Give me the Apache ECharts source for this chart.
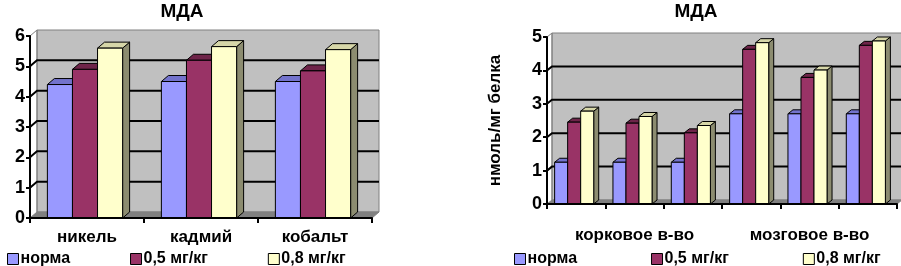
<!DOCTYPE html>
<html>
<head>
<meta charset="utf-8">
<script src="https://cdn.jsdelivr.net/npm/echarts@6/dist/echarts.min.js"></script>
<style>
  html, body { margin: 0; padding: 0; background: #fff; }
  #chart { width: 901px; height: 266px; }
</style>
</head>
<body>
<div id="chart"></div>
<script>
// данные
const seriesNames = ["норма", "0,5 мг/кг", "0,8 мг/кг"];
const metalCats = ["никель", "кадмий", "кобальт"];
const metalNorm = [4.4, 4.5, 4.5];
const metalDose05 = [4.9, 5.2, 4.85];
const metalDose08 = [5.6, 5.65, 5.55];

const tissueCats = ["", "корковое в-во", "", "", "мозговое в-во", ""];
const tissueNorm = [1.25, 1.25, 1.25, 2.7, 2.7, 2.7];
const tissueDose05 = [2.45, 2.42, 2.13, 4.63, 3.79, 4.75];
const tissueDose08 = [2.78, 2.62, 2.35, 4.83, 4.01, 4.88];

// цвета: лицо, верх, бок
const faceColors = ["#9999ff", "#993366", "#ffffcc"];
const topColors = ["#7373cc", "#6e2449", "#d6d6a8"];
const sideColors = ["#6b6bb3", "#5c1e3d", "#8c8c70"];

const font = "'Liberation Sans', Arial, sans-serif";
const chart = echarts.init(document.getElementById("chart"));

// задняя стенка, пол и линии сетки (как в excel 3d)
const wallRender = (nCats, yMax, dx, dy) => (params, api) => {
  const bw = api.size([1, 0])[0];
  const c0 = api.coord([0, 0]);
  const cN = api.coord([nCats - 1, 0]);
  const top = api.coord([0, yMax])[1];
  const bottom = c0[1];
  const left = c0[0] - bw / 2;
  const right = cN[0] + bw / 2;
  const children = [];
  children.push({
    type: "polygon",
    shape: { points: [[left + dx, top + dy], [right + dx, top + dy], [right + dx, bottom + dy], [left + dx, bottom + dy]] },
    style: { fill: "#c0c0c0", stroke: "#808080", lineWidth: 1 }
  });
  children.push({
    type: "polygon",
    shape: { points: [[left, bottom], [left + dx, bottom + dy], [right + dx, bottom + dy], [right, bottom]] },
    style: { fill: "#808080", stroke: "#808080", lineWidth: 1 }
  });
  children.push({
    type: "polyline",
    shape: { points: [[left, top], [left + dx, top + dy], [left + dx, bottom + dy]] },
    style: { fill: null, stroke: "#808080", lineWidth: 1 }
  });
  for (let v = 1; v < yMax; v++) {
    const y = api.coord([0, v])[1];
    children.push({
      type: "polyline",
      shape: { points: [[left, y], [left + dx, y + dy], [right + dx, y + dy]] },
      style: { fill: null, stroke: "#000", lineWidth: 2 }
    });
  }
  return { type: "group", children: children };
};

// 3d столбик
const barRender = (idx, groupRatio, shift, dx, dy) => (params, api) => {
  const cat = api.value(0);
  const val = api.value(1);
  const bw = api.size([1, 0])[0];
  const groupW = bw * groupRatio;
  const barW = groupW / 3;
  const topPt = api.coord([cat, val]);
  const basePt = api.coord([cat, 0]);
  const x0 = topPt[0] - groupW / 2 + shift + idx * barW;
  const ty = topPt[1];
  const by = basePt[1];
  return {
    type: "group",
    children: [
      {
        type: "polygon",
        shape: { points: [[x0 + barW, ty], [x0 + barW + dx, ty + dy], [x0 + barW + dx, by + dy], [x0 + barW, by]] },
        style: { fill: sideColors[idx], stroke: "#000", lineWidth: 1 }
      },
      {
        type: "polygon",
        shape: { points: [[x0, ty], [x0 + dx, ty + dy], [x0 + barW + dx, ty + dy], [x0 + barW, ty]] },
        style: { fill: topColors[idx], stroke: "#000", lineWidth: 1 }
      },
      {
        type: "rect",
        shape: { x: x0, y: ty, width: barW, height: by - ty },
        style: { fill: faceColors[idx], stroke: "#000", lineWidth: 1 }
      }
    ]
  };
};

const toPairs = (arr) => arr.map((v, i) => [i, v]);

const leftData = [metalNorm, metalDose05, metalDose08];
const rightData = [tissueNorm, tissueDose05, tissueDose08];

const series = [];
series.push({
  type: "custom", name: "wallL", xAxisIndex: 0, yAxisIndex: 0, z: 1,
  renderItem: wallRender(metalCats.length, 6, 7, -6), data: [[0, 0]], silent: true
});
series.push({
  type: "custom", name: "wallR", xAxisIndex: 1, yAxisIndex: 1, z: 1,
  renderItem: wallRender(tissueCats.length, 5, 5, -4), data: [[0, 0]], silent: true
});
leftData.forEach((arr, i) => {
  series.push({
    type: "custom", name: seriesNames[i], xAxisIndex: 0, yAxisIndex: 0, z: 3,
    itemStyle: { color: faceColors[i] },
    encode: { x: 0, y: 1 },
    renderItem: barRender(i, 0.66, -2, 7, -6),
    data: toPairs(arr)
  });
});
rightData.forEach((arr, i) => {
  series.push({
    type: "custom", name: seriesNames[i], xAxisIndex: 1, yAxisIndex: 1, z: 3,
    itemStyle: { color: faceColors[i] },
    encode: { x: 0, y: 1 },
    renderItem: barRender(i, 0.67, -2, 5, -4),
    data: toPairs(arr)
  });
});

const axisLabelStyle = { color: "#000", fontFamily: font, fontWeight: "bold" };

const option = {
  animation: false,
  backgroundColor: "#fff",
  title: [
    { text: "МДА", left: 177, top: -3, textAlign: "center",
      textStyle: { fontFamily: font, fontWeight: "bold", fontSize: 19, color: "#000" } },
    { text: "МДА", left: 691, top: -3, textAlign: "center",
      textStyle: { fontFamily: font, fontWeight: "bold", fontSize: 19, color: "#000" } }
  ],
  legend: [
    {
      data: seriesNames, left: 2, top: 246, itemGap: 60, itemWidth: 11, itemHeight: 11, icon: "rect",
      itemStyle: { borderColor: "#000", borderWidth: 1 },
      textStyle: { fontFamily: font, fontWeight: "bold", fontSize: 16, color: "#000", padding: [0, 0, 0, -3] },
      selectedMode: false
    },
    {
      data: seriesNames, left: 509, top: 246, itemGap: 74, itemWidth: 11, itemHeight: 11, icon: "rect",
      itemStyle: { borderColor: "#000", borderWidth: 1 },
      textStyle: { fontFamily: font, fontWeight: "bold", fontSize: 16, color: "#000", padding: [0, 0, 0, -3] },
      selectedMode: false
    }
  ],
  grid: [
    { left: 30, top: 36, width: 342, height: 182 },
    { left: 547, top: 37, width: 350, height: 167 }
  ],
  xAxis: [
    {
      type: "category", gridIndex: 0, data: metalCats, z: 10,
      axisLine: { lineStyle: { color: "#000", width: 2 } },
      axisTick: { show: true, length: 5, lineStyle: { color: "#000", width: 2 } },
      axisLabel: Object.assign({ fontSize: 17, margin: 11, interval: 0 }, axisLabelStyle)
    },
    {
      type: "category", gridIndex: 1, data: tissueCats, z: 10,
      axisLine: { lineStyle: { color: "#000", width: 2 } },
      axisTick: { show: true, length: 5, interval: 0, lineStyle: { color: "#000", width: 2 } },
      axisLabel: Object.assign({ fontSize: 17, margin: 23, interval: 0 }, axisLabelStyle)
    }
  ],
  yAxis: [
    {
      type: "value", gridIndex: 0, min: 0, max: 6, interval: 1, z: 10,
      axisLine: { show: true, lineStyle: { color: "#000", width: 2 } },
      axisTick: { show: true, length: 4, lineStyle: { color: "#000", width: 2 } },
      splitLine: { show: false },
      axisLabel: Object.assign({ fontSize: 18, margin: 5 }, axisLabelStyle)
    },
    {
      type: "value", gridIndex: 1, min: 0, max: 5, interval: 1, z: 10,
      name: "нмоль/мг белка", nameLocation: "middle", nameGap: 43,
      nameTextStyle: { fontFamily: font, fontWeight: "bold", fontSize: 17, color: "#000" },
      axisLine: { show: true, lineStyle: { color: "#000", width: 2 } },
      axisTick: { show: true, length: 4, lineStyle: { color: "#000", width: 2 } },
      splitLine: { show: false },
      axisLabel: Object.assign({ fontSize: 18, margin: 5 }, axisLabelStyle)
    }
  ],
  series: series
};

chart.setOption(option);
</script>
</body>
</html>
